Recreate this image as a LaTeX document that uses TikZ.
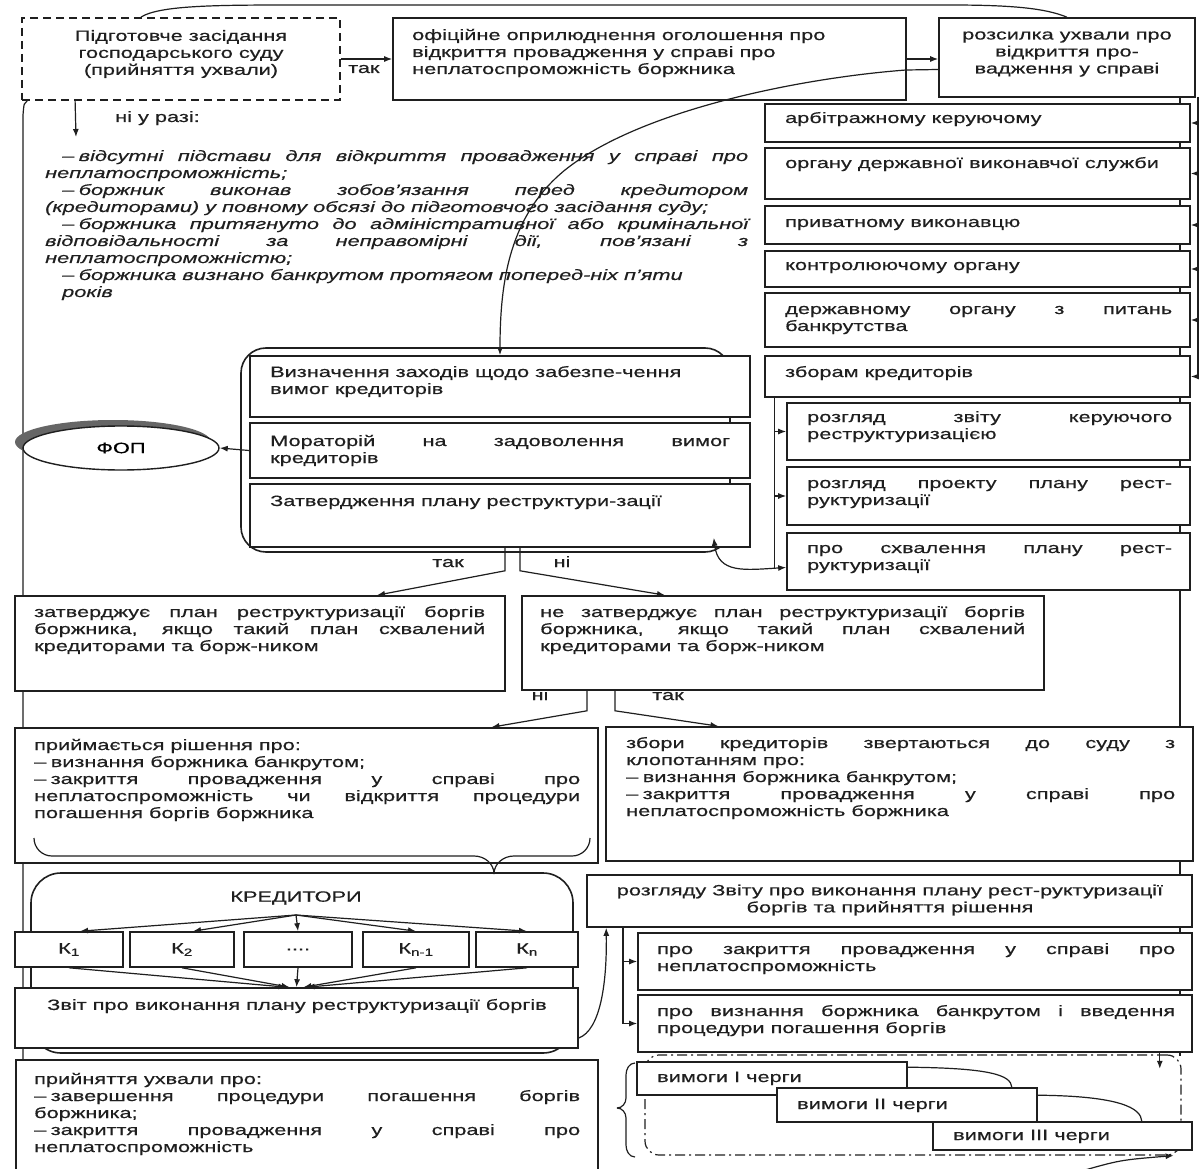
\documentclass[tikz,border=0pt]{standalone}
\usepackage{fontspec}
\setmainfont{Liberation Sans}[FakeStretch=1.45,FakeBold=0.4]
\usetikzlibrary{arrows.meta,fit,shapes.geometric}
\definecolor{ink}{gray}{0.12}
\newcommand\jl[2]{\makebox[#1pt][s]{#2}}
\newcommand\dd{–\hspace{4.5pt}}
\newcommand\bx[6][]{\node[box,#1,fit={(#3,#4) (#5,#6)}] (#2) {};}
\newcommand\pb[2]{\parbox[t]{#1pt}{#2}}
\begin{document}
\begin{tikzpicture}[x=1pt,y=-1pt,
  box/.style={draw=ink,line width=1.6pt,fill=white,inner sep=0pt},
  ln/.style={line width=1.2pt,draw=ink},
  arr/.style={-{Latex[length=8pt,width=6pt]},line width=1.2pt,draw=ink},
  txt/.style={inner sep=0pt,font=\fontsize{15}{17}\selectfont,text=ink}]
\useasboundingbox (0,0) rectangle (1200,1169);
\fill[white] (0,0) rectangle (1200,1169);
% background lines
\draw[ln] (1180,97) -- (1180,1056);
\draw[ln] (1198,97) -- (1198,377);
% top boxes
\bx[dash pattern=on 8pt off 5pt,line width=1.8pt]{D}{22}{18}{340}{100}
\bx{O}{393}{18}{906}{100}
\bx{R}{939}{18}{1195}{97}
\node[txt,align=center] (tD) at (181,54) {Підготовче засідання\\господарського суду\\(прийняття ухвали)};
\node[txt,anchor=base west] (tO) at (412,40) {\pb{470}{офіційне оприлюднення оголошення про\\відкриття провадження у справі про\\неплатоспроможність боржника}};
\node[txt,align=center] (tR) at (1067,54) {розсилка ухвали про\\відкриття про-\\вадження у справі};
% outer frame
\draw[ln] ([xshift=-40pt]D.north) .. controls (160,5) and (220,5) .. (300,5) -- (950,5) .. controls (1010,5) and (1045,8) .. (R.north);
\draw[ln] ([xshift=6pt]D.south west) .. controls (24,103) .. (23,115) -- (23,1175);
% D -> O -> R
\draw[arr] (D.east) -- (O.west);
\node[txt,anchor=base west] (tak1) at (348,73) {так};
\draw[arr] (O.east) -- (O.east -| R.west);
% ni u razi
\coordinate (nr) at (76,137);
\draw[arr] ([xshift=54pt]D.south west) -- (nr);
\node[txt,anchor=base west] (nur) at (115,122) {ні у разі:};
\node[txt,anchor=base west] (cond) at (45,161) {\pb{703}{\itshape
\hspace*{17pt}\jl{686}{\dd відсутні підстави для відкриття провадження у справі про}\\
неплатоспроможність;\\
\hspace*{17pt}\jl{686}{\dd боржник виконав зобов'язання перед кредитором}\\
(кредиторами) у повному обсязі до підготовчого засідання суду;\\
\hspace*{17pt}\jl{686}{\dd боржника притягнуто до адміністративної або кримінальної}\\
\jl{703}{відповідальності за неправомірні дії, пов'язані з}\\
неплатоспроможністю;\\
\hspace*{17pt}\dd боржника визнано банкрутом протягом поперед-ніх п'яти\\
\hspace*{17pt}років}};
% right column
\bx{A1}{765}{104}{1190}{142}
\bx{A2}{765}{148}{1190}{199}
\bx{A3}{765}{206}{1190}{244}
\bx{A4}{765}{251}{1190}{287}
\bx{A5}{765}{293}{1190}{347}
\bx{A6}{765}{356}{1190}{397}
\node[txt,anchor=base west] (tA1) at (785,123) {арбітражному керуючому};
\node[txt,anchor=base west] (tA2) at (785,168) {органу державної виконавчої служби};
\node[txt,anchor=base west] (tA3) at (785,227) {приватному виконавцю};
\node[txt,anchor=base west] (tA4) at (785,270) {контролюючому органу};
\node[txt,anchor=base west] (tA5) at (785,314) {\pb{387}{\jl{387}{державному органу з питань}\\банкрутства}};
\node[txt,anchor=base west] (tA6) at (785,377) {зборам кредиторів};
\foreach \b in {A1,A2,A3,A4,A5,A6} \draw[arr] (\b.east -| 1198,0) -- (\b.east);
\bx{S1}{787}{403}{1190}{460}
\bx{S2}{787}{467}{1190}{525}
\bx{S3}{787}{533}{1190}{590}
\node[txt,anchor=base west] (tS1) at (807,422) {\pb{365}{\jl{365}{розгляд звіту керуючого}\\реструктуризацією}};
\node[txt,anchor=base west] (tS2) at (807,488) {\pb{365}{\jl{365}{розгляд проекту плану рест-}\\руктуризації}};
\node[txt,anchor=base west] (tS3) at (807,553) {\pb{365}{\jl{365}{про схвалення плану рест-}\\руктуризації}};
\coordinate (sl) at ([xshift=10pt]A6.south west);
\draw[ln] (sl) -- ([yshift=-6pt]S3.west -| sl);
\draw[arr] (S1.west -| sl) -- (S1.west);
\draw[arr] (S2.west -| sl) -- (S2.west);
% middle group
\node[draw=ink,line width=1.6pt,rounded corners=25pt,inner sep=0pt,fit={(241,348) (730,552)}] (G) {};
\bx{B1}{250}{356}{750}{417}
\bx{B2}{250}{423}{750}{478}
\bx{B3}{250}{484}{750}{547}
\node[txt,anchor=base west] (tB1) at (270,377) {\pb{470}{Визначення заходів щодо забезпе-чення\\вимог кредиторів}};
\node[txt,anchor=base west] (tB2) at (270,446) {\pb{460}{\jl{460}{Мораторій на задоволення вимог}\\кредиторів}};
\node[txt,anchor=base west] (tB3) at (270,506) {Затвердження плану реструктури-зації};
% big curve R -> B1
\draw[arr] ([yshift=-12pt]R.west) -- (906,70) .. controls (800,78) and (640,110) .. (565,170) .. controls (510,215) and (500,280) .. (B1.north);
% FOP
\node[ellipse,fill=black!60,minimum width=196pt,minimum height=44pt,inner sep=0pt] (fsh) at (113,442) {};
\node[ellipse,draw=ink,line width=1.4pt,fill=white,minimum width=196pt,minimum height=44pt,inner sep=0pt,font=\fontsize{15}{17}\selectfont] (fop) at (121,448) {ФОП};
\draw[arr] (B2.west) -- (fop.east);
% B3 <-> S3
\draw[{Latex[length=8pt,width=6pt]}-{Latex[length=8pt,width=6pt]},line width=1.2pt,draw=ink] ([shift={(-37pt,10pt)}]B3.south east) .. controls (718,574) and (745,570) .. ([yshift=-6pt]S3.west);
% second row
\bx{C1}{15}{596}{505}{691}
\bx{C2}{522}{596}{1044}{690}
\draw[arr] ([xshift=5pt]B3.south) -- ++(0,23) -- ([xshift=117pt]C1.north);
\draw[arr] ([xshift=20pt]B3.south) -- ++(0,23) -- ([xshift=-118pt]C2.north);
\node[txt,anchor=base] (tak2) at (448,567) {так};
\node[txt,anchor=base] (ni2) at (562,567) {ні};
\node[txt,anchor=base west] (tC1) at (34,617) {\pb{451}{\jl{451}{затверджує план реструктуризації боргів}\\\jl{451}{боржника, якщо такий план схвалений}\\кредиторами та борж-ником}};
\node[txt,anchor=base west] (tC2) at (540,617) {\pb{485}{\jl{485}{не затверджує план реструктуризації боргів}\\\jl{485}{боржника, якщо такий план схвалений}\\кредиторами та борж-ником}};
% third row
\bx{E1}{15}{728}{598}{863}
\bx{E2}{606}{727}{1193}{861}
\draw[arr] ([xshift=-196pt]C2.south) -- ++(0,20) -- ([xshift=185pt]E1.north);
\draw[arr] ([xshift=-168pt]C2.south) -- ++(0,20) -- ([xshift=-181pt]E2.north);
\node[txt,anchor=base] (ni3) at (540,700) {ні};
\node[txt,anchor=base] (tak3) at (668,700) {так};
\node[txt,anchor=base west] (tE1) at (34,750) {\pb{546}{приймається рішення про:\\\dd визнання боржника банкрутом;\\\jl{546}{\dd закриття провадження у справі про}\\\jl{546}{неплатоспроможність чи відкриття процедури}\\погашення боргів боржника}};
\node[txt,anchor=base west] (tE2) at (626,748) {\pb{549}{\jl{549}{збори кредиторів звертаються до суду з}\\клопотанням про:\\\dd визнання боржника банкрутом;\\\jl{549}{\dd закриття провадження у справі про}\\неплатоспроможність боржника}};
\draw[ln] (34,838) to[out=-90,in=180] (52,856) -- (474,856) to[out=0,in=90] (494,874);
\draw[ln] (494,874) to[out=90,in=180] (514,856) -- (572,856) to[out=0,in=-90] (590,838);
% creditors group
\node[draw=ink,line width=1.6pt,rounded corners=30pt,inner sep=0pt,fit={(31,873) (573,1053)}] (KR) {};
\node[txt] (krt) at (296,898) {КРЕДИТОРИ};
\coordinate (ks) at (296,915);
\bx{K1}{15}{932}{123}{967}
\bx{K2}{130}{932}{234}{967}
\bx{K3}{244}{932}{352}{967}
\bx{K4}{363}{932}{469}{967}
\bx{K5}{476}{932}{578}{967}
\node[txt] (tK1) at (K1) {К\textsubscript{1}};
\node[txt] (tK2) at (K2) {К\textsubscript{2}};
\node[txt] (tK3) at (K3) {....};
\node[txt] (tK4) at (K4) {К\textsubscript{n-1}};
\node[txt] (tK5) at (K5) {К\textsubscript{n}};
\draw[arr] (ks) -- ([xshift=11pt]K1.north);
\draw[arr] (ks) -- ([xshift=11pt]K2.north);
\draw[arr] (ks) -- (K3.north);
\draw[arr] (ks) -- (K4.north);
\draw[arr] (ks) -- (K5.north);
\bx{Z}{15}{988}{578}{1048}
\node[txt] (tZ) at (297,1006) {Звіт про виконання плану реструктуризації боргів};
\draw[arr] (K1.south) -- ([xshift=-10pt]Z.north);
\draw[arr] (K2.south) -- ([xshift=-7pt]Z.north);
\draw[arr] (K3.south) -- (Z.north);
\draw[arr] (K4.south) -- ([xshift=7pt]Z.north);
\draw[arr] (K5.south) -- ([xshift=10pt]Z.north);
% right lower
\bx{V}{587}{875}{1192}{927}
\node[txt,align=center] (tV) at (890,900) {розгляду Звіту про виконання плану рест-руктуризації\\боргів та прийняття рішення};
\draw[arr] ([yshift=-20pt]Z.east) .. controls (600,1030) and (607,985) .. ([xshift=20pt]V.south west);
\bx{W1}{638}{933}{1192}{990}
\bx{W2}{638}{995}{1192}{1052}
\coordinate (vl) at (623,927);
\draw[ln] (vl) -- (W2.west -| vl);
\draw[arr] (W1.west -| vl) -- (W1.west);
\draw[arr] (W2.west -| vl) -- (W2.west);
\node[txt,anchor=base west] (tW1) at (657,954) {\pb{518}{\jl{518}{про закриття провадження у справі про}\\неплатоспроможність}};
\node[txt,anchor=base west] (tW2) at (657,1016) {\pb{518}{\jl{518}{про визнання боржника банкрутом і введення}\\процедури погашення боргів}};
% bottom left
\bx{P}{16}{1060}{598}{1185}
\node[txt,anchor=base west] (tP) at (34,1084) {\pb{546}{прийняття ухвали про:\\\jl{546}{\dd завершення процедури погашення боргів}\\боржника;\\\jl{546}{\dd закриття провадження у справі про}\\неплатоспроможність}};
% bottom right
\node[draw=ink,line width=1.2pt,dash pattern=on 10pt off 4pt on 2pt off 4pt,rounded corners=14pt,inner sep=0pt,fit={(645,1055) (1181,1155)}] (DD) {};
\draw[ln] (635,1063) to[out=180,in=90] (626,1075) -- (626,1098) to[out=-90,in=0] (617,1108);
\draw[ln] (617,1108) to[out=0,in=90] (626,1118) -- (626,1145) to[out=-90,in=180] (635,1157);
\draw[arr] ([xshift=-33pt]W2.south east) -- ++(0,16);
\bx{V1}{637}{1062}{907}{1095}
\bx{V2}{777}{1088}{1037}{1122}
\bx{V3}{933}{1122}{1192}{1150}
\node[txt,anchor=base west] (tV1) at (657,1082) {вимоги І черги};
\node[txt,anchor=base west] (tV2) at (797,1109) {вимоги ІІ черги};
\node[txt,anchor=base west] (tV3) at (953,1140) {вимоги ІІІ черги};
\draw[ln] ([yshift=-6pt]V1.north east) .. controls (990,1068) and (1011,1075) .. ([xshift=-26pt]V2.north east);
\draw[ln] ([yshift=-8pt]V2.north east) .. controls (1120,1096) and (1141,1108) .. ([xshift=-51pt]V3.north east);
\draw[arr] (1078,1172) .. controls (1120,1160) .. ([xshift=-8pt]DD.south east);
\end{tikzpicture}
\end{document}
